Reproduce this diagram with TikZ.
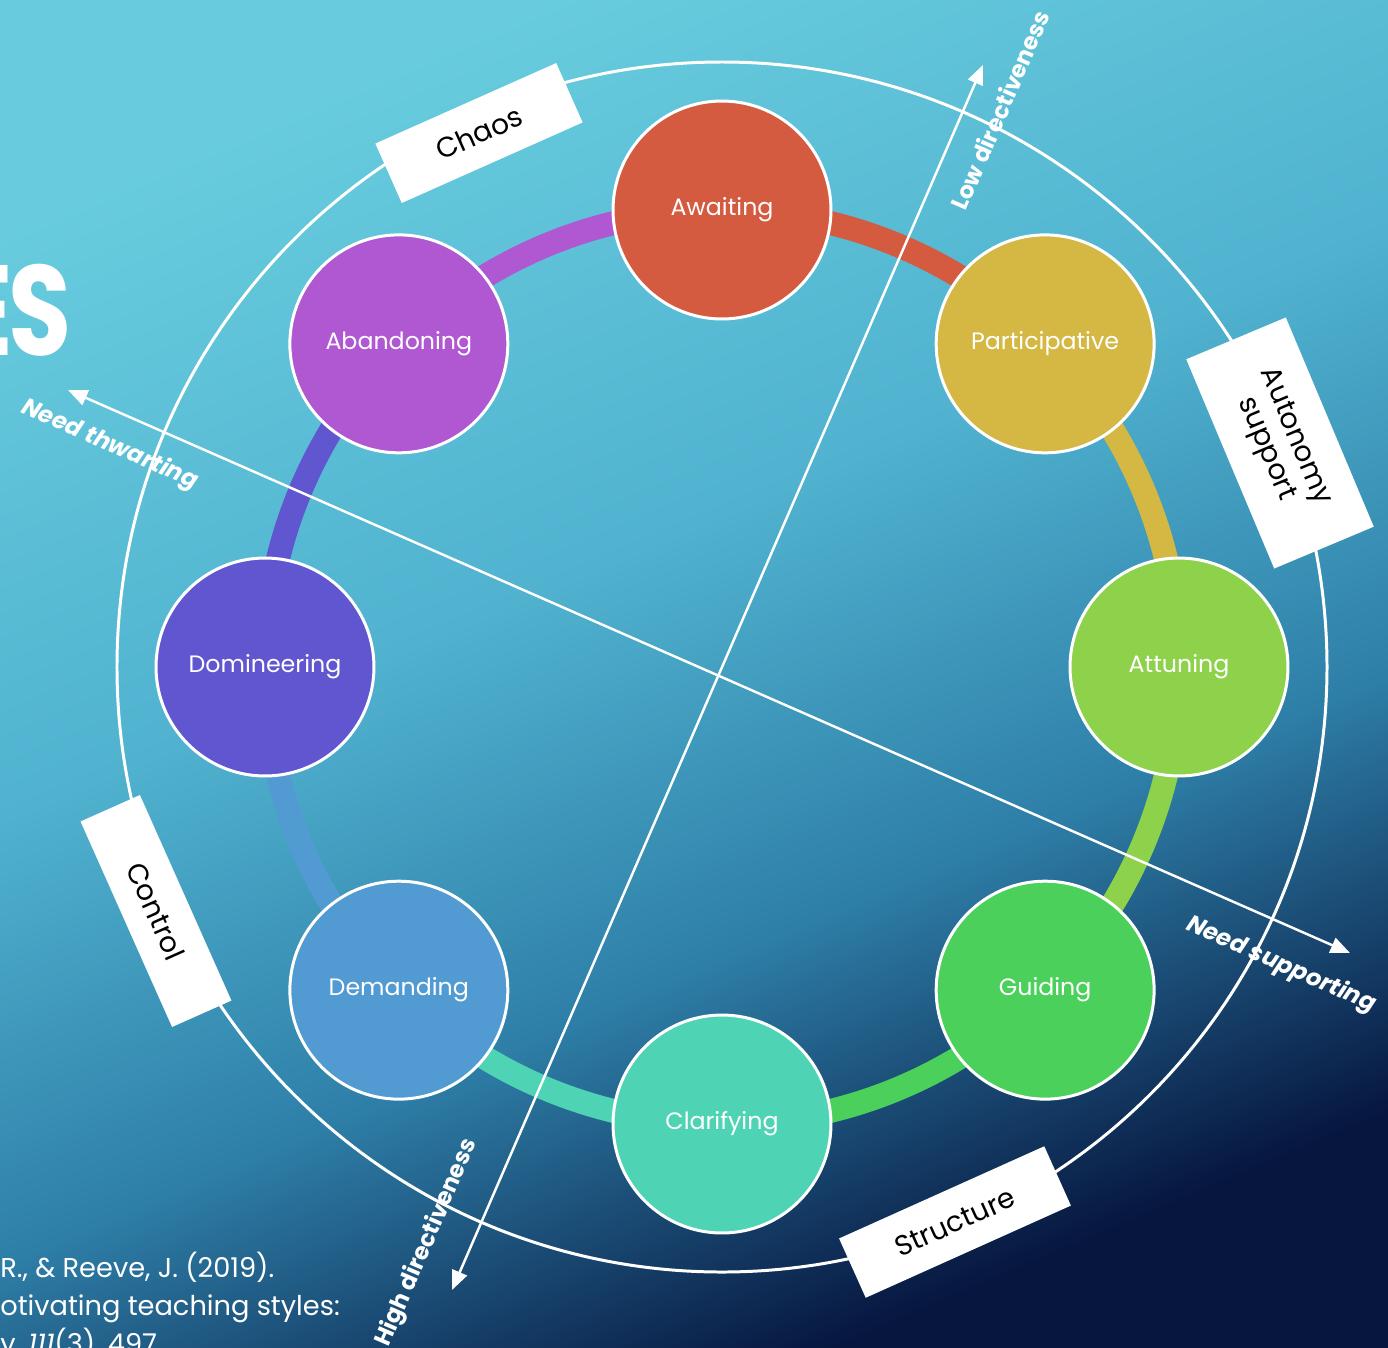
\documentclass[tikz,border=0pt]{standalone}
\usepackage{fontspec}
\setmainfont{Poppins}
\usetikzlibrary{arrows.meta}
\definecolor{bgA}{HTML}{68CCDE}
\definecolor{bgB}{HTML}{50B2CF}
\definecolor{bgC}{HTML}{2E7FA8}
\definecolor{bgD}{HTML}{06163F}
\definecolor{awaitcol}{HTML}{D45A40}
\definecolor{partcol}{HTML}{D4B843}
\definecolor{attunecol}{HTML}{8ED14A}
\definecolor{guidecol}{HTML}{4BD05C}
\definecolor{clarcol}{HTML}{4FD3B5}
\definecolor{demandcol}{HTML}{519AD2}
\definecolor{domincol}{HTML}{6057D0}
\definecolor{abandcol}{HTML}{B057D2}
\pgfdeclareverticalshading{bgshade}{100bp}{color(0bp)=(bgD); color(25bp)=(bgD); color(40bp)=(bgC); color(55bp)=(bgB); color(75bp)=(bgA); color(100bp)=(bgA)}
\tikzset{
  stylenode/.style={circle,draw=white,line width=1.7pt,minimum size=4.36cm,text=white,font=\fontsize{13.5}{15}\selectfont},
  ring/.style={line width=13.6pt},
  axis/.style={white,line width=1.4pt,{Triangle[length=11pt,width=9pt]}-{Triangle[length=11pt,width=9pt]}},
  axislabel/.style={text=white,font=\bfseries\fontsize{13.3}{15}\selectfont},
  labelbox/.style={fill=white,text=black,minimum width=4.5cm,minimum height=1.3cm,align=center,inner sep=2pt,font=\fontsize{16}{18}\selectfont}
}
\begin{document}
\begin{tikzpicture}[x=0.02cm,y=0.02cm]
\useasboundingbox (-722,-680) rectangle (666,667);
\clip (-722,-680) rectangle (666,667);
\shade[shading=bgshade,shading angle=23] (-722,-680) rectangle (666,667);
\node[anchor=east,inner sep=0pt,transform shape,xscale=0.8,text=white,font=\bfseries\fontsize{73}{73}\selectfont] (title) at (-650,357) {E\kern-3pt S};
\node[anchor=base west,text=white,align=left,inner sep=0pt,font=\fontsize{15.5}{21.5}\selectfont] (cite) at (-722,-686) {R., \& Reeve, J. (2019).\\otivating teaching styles:\\y, \textit{111}(3), 497};
\draw[white,line width=1.7pt] (0,0) circle[radius=605];
\coordinate (pAw) at (90:457);
\coordinate (pPa) at (45:457);
\coordinate (pAt) at (0:457);
\coordinate (pGu) at (-45:457);
\coordinate (pCl) at (-90:457);
\coordinate (pDe) at (-135:457);
\coordinate (pDo) at (180:457);
\coordinate (pAb) at (135:457);
\draw[ring,awaitcol] (pAw) arc[start angle=90,end angle=45,radius=457];
\draw[ring,partcol] (pPa) arc[start angle=45,end angle=0,radius=457];
\draw[ring,attunecol] (pAt) arc[start angle=0,end angle=-45,radius=457];
\draw[ring,guidecol] (pGu) arc[start angle=-45,end angle=-90,radius=457];
\draw[ring,clarcol] (pCl) arc[start angle=-90,end angle=-135,radius=457];
\draw[ring,demandcol] (pDe) arc[start angle=-135,end angle=-180,radius=457];
\draw[ring,domincol] (pDo) arc[start angle=180,end angle=135,radius=457];
\draw[ring,abandcol] (pAb) arc[start angle=135,end angle=90,radius=457];
\coordinate (lowtip) at (261,602);
\coordinate (hightip) at (-270,-623);
\coordinate (thwarttip) at (-654,277);
\coordinate (supporttip) at (628,-286);
\draw[axis] (hightip) -- (lowtip);
\draw[axis] (thwarttip) -- (supporttip);
\node[axislabel,rotate=66.6] (lowlab) at (278,557) {Low directiveness};
\node[axislabel,rotate=66.6] (highlab) at (-295,-576) {High directiveness};
\node[axislabel,font=\bfseries\itshape\fontsize{13.5}{15}\selectfont,rotate=-23.7] (thwartlab) at (-612,222) {Need thwarting};
\node[axislabel,font=\bfseries\itshape\fontsize{13.5}{15}\selectfont,rotate=-23.7] (supportlab) at (559,-298) {Need supporting};
\node[stylenode,fill=awaitcol] (awaiting) at (pAw) {Awaiting};
\node[stylenode,fill=partcol] (participative) at (pPa) {Participative};
\node[stylenode,fill=attunecol] (attuning) at (pAt) {Attuning};
\node[stylenode,fill=guidecol] (guiding) at (pGu) {Guiding};
\node[stylenode,fill=clarcol] (clarifying) at (pCl) {Clarifying};
\node[stylenode,fill=demandcol] (demanding) at (pDe) {Demanding};
\node[stylenode,fill=domincol] (domineering) at (pDo) {Domineering};
\node[stylenode,fill=abandcol] (abandoning) at (pAb) {Abandoning};
\node[labelbox,rotate=24,minimum width=3.96cm] (chaos) at (-243,534) {Chaos};
\node[labelbox,rotate=-67.2,minimum width=4.54cm,minimum height=2.16cm] (autonomy) at (558,224) {Autonomy\\support};
\node[labelbox,rotate=24.2] (structure) at (233,-555) {Structure};
\node[labelbox,rotate=-66] (control) at (-566,-244) {Control};
\end{tikzpicture}
\end{document}
